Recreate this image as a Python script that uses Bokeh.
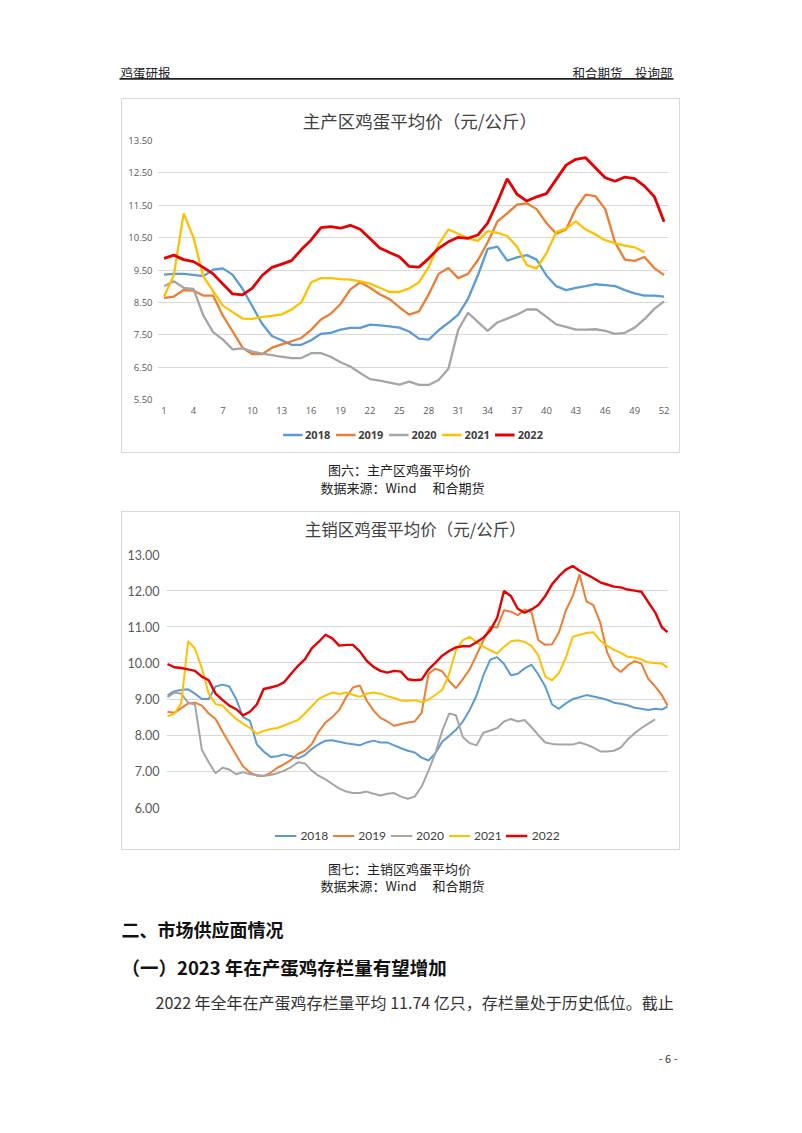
from bokeh.plotting import figure
from bokeh.models import (Range1d, FixedTicker, NumeralTickFormatter, Legend, LegendItem,
                          Label, BoxAnnotation, Spacer, Div)
from bokeh.layouts import column, row
from bokeh.embed import file_html
from bokeh.resources import INLINE

# ---------------- data ----------------
years = ["2018", "2019", "2020", "2021", "2022"]
colors = ["#5B9BD5", "#ED7D31", "#A5A5A5", "#FFC000", "#E60000"]

# Chart 1: weekly prices, main producing areas
weeks = [1, 2, 3, 4, 5, 6, 7, 8, 9, 10, 11, 12, 13, 14, 15, 16, 17, 18, 19, 20,
         21, 22, 23, 24, 25, 26, 27, 28, 29, 30, 31, 32, 33, 34, 35, 36, 37, 38, 39, 40,
         41, 42, 43, 44, 45, 46, 47, 48, 49, 50, 51, 52]
week_ticks = [1, 4, 7, 10, 13, 16, 19, 22, 25, 28, 31, 34, 37, 40, 43, 46, 49, 52]
prod_ticks = [5.5, 6.5, 7.5, 8.5, 9.5, 10.5, 11.5, 12.5, 13.5]

prod_2018 = [9.36, 9.38, 9.38, 9.35, 9.31, 9.51, 9.55, 9.35, 8.92, 8.38,
             7.84, 7.46, 7.33, 7.19, 7.19, 7.33, 7.53, 7.56, 7.66, 7.71,
             7.71, 7.81, 7.79, 7.76, 7.72, 7.60, 7.38, 7.35, 7.64, 7.87,
             8.12, 8.61, 9.33, 10.15, 10.22, 9.79, 9.89, 9.96, 9.82, 9.33,
             9.00, 8.88, 8.95, 9.00, 9.06, 9.03, 9.00, 8.88, 8.78, 8.71,
             8.71, 8.68]
prod_2019 = [8.64, 8.68, 8.88, 8.86, 8.71, 8.71, 8.09, 7.60, 7.10, 6.90,
             6.90, 7.10, 7.20, 7.30, 7.40, 7.65, 7.97, 8.15, 8.45, 8.90,
             9.12, 8.95, 8.75, 8.60, 8.35, 8.12, 8.22, 8.75, 9.38, 9.56,
             9.25, 9.38, 9.80, 10.35, 11.00, 11.25, 11.52, 11.56, 11.38, 10.95,
             10.62, 10.75, 11.40, 11.83, 11.78, 11.38, 10.35, 9.82, 9.78, 9.90,
             9.56, 9.34]
prod_2020 = [9.00, 9.15, 8.95, 8.92, 8.10, 7.58, 7.35, 7.05, 7.08, 6.98,
             6.92, 6.87, 6.82, 6.78, 6.78, 6.93, 6.93, 6.82, 6.65, 6.52,
             6.32, 6.13, 6.08, 6.02, 5.96, 6.05, 5.95, 5.95, 6.10, 6.45,
             7.65, 8.18, 7.90, 7.62, 7.88, 8.00, 8.12, 8.28, 8.28, 8.05,
             7.82, 7.74, 7.66, 7.66, 7.67, 7.62, 7.53, 7.56, 7.72, 7.98,
             8.30, 8.53]
prod_2021 = [8.68, 9.35, 11.25, 10.50, 9.30, 8.85, 8.40, 8.20, 8.00, 7.99,
             8.05, 8.08, 8.13, 8.28, 8.50, 9.12, 9.25, 9.25, 9.22, 9.20,
             9.15, 9.08, 8.95, 8.82, 8.82, 8.93, 9.12, 9.60, 10.30, 10.75,
             10.62, 10.48, 10.40, 10.70, 10.65, 10.55, 10.22, 9.65, 9.55, 10.02,
             10.68, 10.78, 11.00, 10.75, 10.60, 10.42, 10.33, 10.25, 10.20, 10.05]
prod_2022 = [9.86, 9.96, 9.82, 9.76, 9.58, 9.38, 9.07, 8.76, 8.73, 8.94,
             9.33, 9.58, 9.68, 9.79, 10.13, 10.43, 10.81, 10.84, 10.79, 10.88,
             10.76, 10.47, 10.18, 10.04, 9.91, 9.61, 9.59, 9.86, 10.17, 10.37,
             10.51, 10.48, 10.58, 10.95, 11.60, 12.32, 11.84, 11.63, 11.76, 11.86,
             12.30, 12.74, 12.92, 12.97, 12.66, 12.35, 12.24, 12.37, 12.32, 12.09,
             11.77, 10.99]

# Chart 2: daily prices (read every ~5 days), main selling areas
days = [1, 6, 11, 16, 21, 26, 31, 36, 41, 46, 51, 56, 61, 66, 71, 76, 81, 86, 91, 96,
        101, 106, 111, 116, 121, 126, 131, 136, 141, 146, 151, 156, 161, 166, 171, 176,
        181, 186, 191, 196, 201, 206, 211, 216, 221, 226, 231, 236, 241, 246, 251, 256,
        261, 266, 271, 276, 281, 286, 291, 296, 301, 306, 311, 316, 321, 326, 331, 336,
        341, 346, 351, 356, 361, 365]
sale_ticks = [6, 7, 8, 9, 10, 11, 12, 13]

sale_2018 = [9.10, 9.22, 9.25, 9.27, 9.15, 9.00, 9.00, 9.35, 9.40, 9.35,
             9.00, 8.50, 8.40, 7.75, 7.55, 7.40, 7.42, 7.47, 7.42, 7.36,
             7.45, 7.62, 7.75, 7.85, 7.86, 7.82, 7.78, 7.75, 7.72, 7.80,
             7.85, 7.80, 7.80, 7.72, 7.64, 7.57, 7.52, 7.38, 7.30, 7.50,
             7.82, 7.98, 8.15, 8.38, 8.70, 9.10, 9.66, 10.09, 10.16, 9.97,
             9.66, 9.70, 9.85, 9.95, 9.68, 9.35, 8.85, 8.73, 8.88, 9.00,
             9.05, 9.11, 9.07, 9.03, 8.98, 8.90, 8.87, 8.83, 8.76, 8.73,
             8.70, 8.73, 8.71, 8.80]
sale_2019 = [8.65, 8.62, 8.75, 8.88, 8.90, 8.82, 8.60, 8.45, 8.10, 7.78,
             7.45, 7.14, 6.97, 6.88, 6.87, 6.96, 7.10, 7.20, 7.32, 7.48,
             7.57, 7.75, 8.10, 8.35, 8.50, 8.70, 9.05, 9.32, 9.38, 8.96,
             8.68, 8.48, 8.38, 8.26, 8.31, 8.35, 8.38, 8.62, 9.70, 9.84,
             9.77, 9.50, 9.30, 9.55, 9.82, 10.22, 10.63, 11.00, 10.98, 11.46,
             11.42, 11.32, 11.48, 11.40, 10.63, 10.50, 10.52, 10.85, 11.45, 11.85,
             12.45, 11.70, 11.60, 11.12, 10.30, 9.90, 9.75, 9.93, 10.05, 9.98,
             9.56, 9.35, 9.10, 8.82]
sale_2020 = [9.05, 9.18, 9.15, 8.90, 8.85, 7.60, 7.25, 6.95, 7.10, 7.05,
             6.92, 6.98, 6.92, 6.90, 6.88, 6.90, 6.95, 7.02, 7.12, 7.25,
             7.22, 7.02, 6.88, 6.78, 6.65, 6.53, 6.44, 6.40, 6.40, 6.44,
             6.38, 6.33, 6.38, 6.40, 6.30, 6.24, 6.30, 6.58, 7.02, 7.50,
             8.12, 8.60, 8.55, 7.95, 7.78, 7.72, 8.07, 8.13, 8.20, 8.38,
             8.45, 8.38, 8.42, 8.22, 8.00, 7.80, 7.76, 7.74, 7.74, 7.74,
             7.80, 7.74, 7.66, 7.55, 7.55, 7.57, 7.66, 7.88, 8.05, 8.20,
             8.32, 8.44]
sale_2021 = [8.52, 8.60, 8.88, 10.60, 10.40, 9.85, 9.15, 8.86, 8.82, 8.62,
             8.45, 8.32, 8.20, 8.04, 8.12, 8.17, 8.20, 8.27, 8.35, 8.42,
             8.60, 8.80, 9.00, 9.10, 9.18, 9.14, 9.18, 9.12, 9.06, 9.15,
             9.18, 9.15, 9.08, 9.03, 8.96, 8.95, 8.97, 8.92, 8.98, 9.12,
             9.25, 9.70, 10.35, 10.63, 10.72, 10.57, 10.45, 10.35, 10.26, 10.45,
             10.60, 10.63, 10.58, 10.47, 10.20, 9.62, 9.52, 9.72, 10.15, 10.72,
             10.78, 10.83, 10.85, 10.62, 10.48, 10.36, 10.28, 10.17, 10.15, 10.10,
             10.01, 10.00, 9.98, 9.87]
sale_2022 = [9.97, 9.88, 9.86, 9.82, 9.78, 9.62, 9.52, 9.15, 8.98, 8.82,
             8.72, 8.55, 8.65, 8.85, 9.28, 9.32, 9.37, 9.47, 9.70, 9.92,
             10.10, 10.40, 10.58, 10.78, 10.68, 10.48, 10.50, 10.50, 10.32, 10.06,
             9.89, 9.78, 9.73, 9.78, 9.76, 9.55, 9.52, 9.54, 9.82, 10.00,
             10.20, 10.33, 10.43, 10.46, 10.46, 10.57, 10.70, 10.90, 11.25, 11.99,
             11.85, 11.50, 11.39, 11.48, 11.60, 11.85, 12.18, 12.40, 12.58, 12.68,
             12.55, 12.45, 12.35, 12.23, 12.17, 12.11, 12.09, 12.03, 12.00, 11.97,
             11.68, 11.40, 10.98, 10.85]

title1 = "主产区鸡蛋平均价（元/公斤）"
title2 = "主销区鸡蛋平均价（元/公斤）"

CJK = "Noto Sans CJK SC"
PAGE_W = 802
BOX_W = 557
BORDER = "#D9D9D9"


def text_fig(w, h):
    f = figure(width=w, height=h, x_range=Range1d(0, w), y_range=Range1d(h, 0),
               toolbar_location=None, output_backend="svg", min_border=0,
               x_axis_location=None, y_axis_location=None)
    f.grid.visible = False
    f.outline_line_color = None
    return f


def lab(f, x, y, text, size, align="left", color="#222222", style="normal", font=CJK):
    f.add_layout(Label(x=x, y=y, text=text, text_font=font, text_font_size=size,
                       text_align=align, text_baseline="middle", text_color=color,
                       text_font_style=style))


def hline():
    return Div(text="", width=BOX_W, height=1, margin=0,
               styles={"background-color": BORDER})


def vline(h):
    return Div(text="", width=1, height=h, margin=0,
               styles={"background-color": BORDER})


def style_chart(p):
    p.outline_line_color = None
    p.xgrid.grid_line_color = None
    p.ygrid.grid_line_color = BORDER
    p.ygrid.grid_line_width = 1


def legend_strip(h, top, bottom, xs, series, widths, **kw):
    # the series are drawn with a y range that keeps them out of view; only the legend shows
    f = figure(width=BOX_W, height=h, x_range=Range1d(0, 1), y_range=Range1d(-2, -1),
               toolbar_location=None, output_backend="svg",
               min_border_left=0, min_border_right=0,
               min_border_top=top, min_border_bottom=bottom,
               x_axis_location=None, y_axis_location=None)
    f.grid.visible = False
    f.outline_line_color = None
    items = []
    for yr, col, vals, lw in zip(years, colors, series, widths):
        r = f.line(xs[:len(vals)], vals, line_color=col, line_width=lw)
        items.append(LegendItem(label=yr, renderers=[r]))
    leg = Legend(items=items, orientation="horizontal", location="center",
                 padding=0, margin=0, border_line_color=None,
                 background_fill_alpha=0, **kw)
    f.add_layout(leg, "center")
    return f


# ---------------- header ----------------
hdr = text_fig(PAGE_W, 98)
lab(hdr, 120, 72, "鸡蛋研报", "12.5px")
lab(hdr, 672, 72, "和合期货　投询部", "12.5px", align="right")
hdr.add_layout(BoxAnnotation(left=119, right=673, top=77.6, bottom=79.2,
                             fill_color="#222222", fill_alpha=1, line_color=None))

# ---------------- chart 1 ----------------
t1 = text_fig(BOX_W, 35)
lab(t1, 286, 21, title1, "17.5px", align="center", color="#404040")

p1 = figure(width=BOX_W, height=286, x_range=Range1d(0.33, 52.45), y_range=Range1d(5.5, 13.5),
            toolbar_location=None, output_backend="svg",
            min_border_left=35, min_border_right=11, min_border_top=6, min_border_bottom=21)
style_chart(p1)
p1.xaxis.ticker = FixedTicker(ticks=week_ticks)
p1.yaxis.ticker = FixedTicker(ticks=prod_ticks)
p1.yaxis.formatter = NumeralTickFormatter(format="0.00")
for ax in (p1.xaxis[0], p1.yaxis[0]):
    ax.axis_line_color = None
    ax.major_tick_line_color = None
    ax.minor_tick_line_color = None
    ax.major_tick_in = 0
    ax.major_tick_out = 0
    ax.major_label_text_color = "#595959"
    ax.major_label_text_font = "Open Sans"
    ax.major_label_text_font_size = "9.5px"
p1.xaxis.major_label_standoff = 7
p1.yaxis.major_label_standoff = 5

prod_series = [prod_2018, prod_2019, prod_2020, prod_2021, prod_2022]
w1 = [2.3, 2.3, 2.3, 2.3, 2.8]
for yr, col, vals, lw in zip(years, colors, prod_series, w1):
    p1.line(weeks[:len(vals)], vals, line_color=col, line_width=lw)

l1 = legend_strip(32, 4, 8, weeks, prod_series, w1, glyph_width=20, glyph_height=12,
                  label_height=12, label_standoff=3, spacing=5, label_text_font="Open Sans",
                  label_text_font_size="11px", label_text_font_style="bold",
                  label_text_color="#404040")

box1 = row(Spacer(width=121, height=355), vline(355),
           column(hline(), t1, p1, l1, hline()), vline(355))

# ---------------- caption 1 ----------------
cap = text_fig(PAGE_W, 58)
lab(cap, 399, 16, "图六：主产区鸡蛋平均价", "13px", align="center")
lab(cap, 402, 34, "数据来源：Wind　 和合期货", "13px", align="center")

# ---------------- chart 2 ----------------
t2 = text_fig(BOX_W, 34)
lab(t2, 276, 16, title2, "16.5px", align="center", color="#404040")

p2 = figure(width=BOX_W, height=269, x_range=Range1d(0.27, 365.73), y_range=Range1d(6, 13),
            toolbar_location=None, output_backend="svg", x_axis_location=None,
            min_border_left=44, min_border_right=11, min_border_top=8, min_border_bottom=8)
style_chart(p2)
p2.yaxis.ticker = FixedTicker(ticks=sale_ticks)
p2.yaxis.formatter = NumeralTickFormatter(format="0.00")
ax2 = p2.yaxis[0]
ax2.axis_line_color = None
ax2.major_tick_line_color = None
ax2.minor_tick_line_color = None
ax2.major_tick_in = 0
ax2.major_tick_out = 0
ax2.major_label_standoff = 7
ax2.major_label_text_color = "#595959"
ax2.major_label_text_font = "Lato"
ax2.major_label_text_font_size = "12.5px"

sale_series = [sale_2018, sale_2019, sale_2020, sale_2021, sale_2022]
w2 = [2.0, 2.0, 2.0, 2.0, 2.4]
for yr, col, vals, lw in zip(years, colors, sale_series, w2):
    p2.line(days[:len(vals)], vals, line_color=col, line_width=lw)

l2 = legend_strip(34, 8, 2, days, sale_series, w2, glyph_width=22, glyph_height=12,
                  label_height=13, label_standoff=4, spacing=4, label_text_font="Lato",
                  label_text_font_size="12px", label_text_color="#404040")

box2 = row(Spacer(width=121, height=339), vline(339),
           column(hline(), t2, p2, l2, hline()), vline(339))

# ---------------- bottom text ----------------
bot = text_fig(PAGE_W, 283)
lab(bot, 399, 18, "图七：主销区鸡蛋平均价", "13px", align="center")
lab(bot, 402, 35, "数据来源：Wind　 和合期货", "13px", align="center")
lab(bot, 121, 78, "二、市场供应面情况", "18px", color="#111111", style="bold")
lab(bot, 121, 116, "（一）2023 年在产蛋鸡存栏量有望增加", "18.5px", color="#111111", style="bold")
lab(bot, 155, 151, "2022 年全年在产蛋鸡存栏量平均 11.74 亿只，存栏量处于历史低位。截止",
    "16px", color="#333333")
lab(bot, 677, 207, "- 6 -", "11px", align="right", color="#333333")

layout = column(hdr, box1, cap, box2, bot)

open("out.html", "w").write(file_html(layout, INLINE))
